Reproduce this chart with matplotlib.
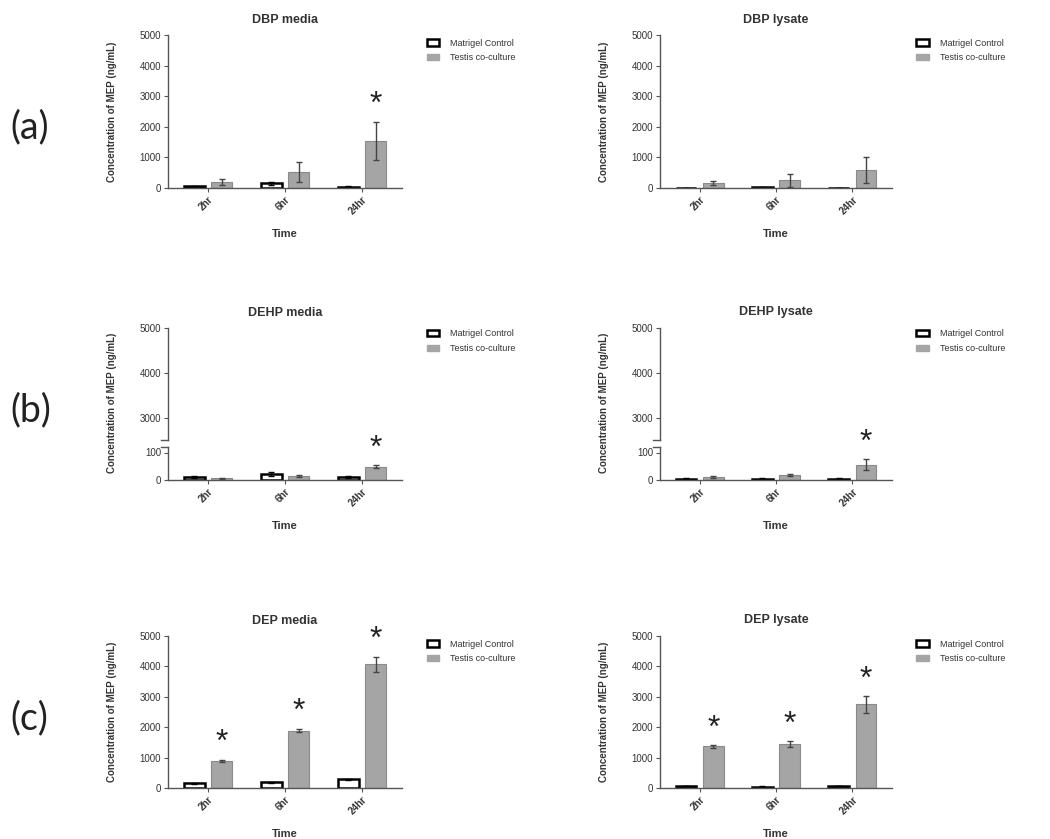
import numpy as np
import matplotlib
matplotlib.use("Agg")
import matplotlib.pyplot as plt

plt.rcParams["font.family"] = ["Liberation Sans", "DejaVu Sans"]

# --- data (ng/mL) ---
times = ["2hr", "6hr", "24hr"]
legend_labels = ["Matrigel Control", "Testis co-culture"]
row_labels = ["(a)", "(b)", "(c)"]

dbp_media_ctrl = [50, 150, 40]
dbp_media_ctrl_err = [20, 40, 10]
dbp_media_testis = [190, 520, 1550]
dbp_media_testis_err = [90, 320, 620]
dbp_media_sig = [False, False, True]

dbp_lysate_ctrl = [10, 20, 10]
dbp_lysate_ctrl_err = [5, 10, 5]
dbp_lysate_testis = [160, 250, 590]
dbp_lysate_testis_err = [60, 220, 430]
dbp_lysate_sig = [False, False, False]

dehp_media_ctrl = [10, 22, 12]
dehp_media_ctrl_err = [3, 6, 3]
dehp_media_testis = [7, 14, 48]
dehp_media_testis_err = [2, 3, 6]
dehp_media_sig = [False, False, True]

dehp_lysate_ctrl = [5, 5, 5]
dehp_lysate_ctrl_err = [2, 2, 2]
dehp_lysate_testis = [11, 18, 55]
dehp_lysate_testis_err = [3, 4, 20]
dehp_lysate_sig = [False, False, True]

dep_media_ctrl = [150, 190, 280]
dep_media_ctrl_err = [20, 20, 30]
dep_media_testis = [890, 1890, 4070]
dep_media_testis_err = [40, 60, 250]
dep_media_sig = [True, True, True]

dep_lysate_ctrl = [60, 40, 60]
dep_lysate_ctrl_err = [10, 10, 10]
dep_lysate_testis = [1370, 1450, 2750]
dep_lysate_testis_err = [40, 90, 280]
dep_lysate_sig = [True, True, True]

GRAY = "#a5a5a5"
GRAY_EDGE = "#8a8a8a"
AX_COL = "#555555"
TXT = "#333333"
YLABEL = "Concentration of MEP (ng/mL)"

W, H = 1050, 839
fig = plt.figure(figsize=(W / 100, H / 100), dpi=100)


def px_axes(x0, x1, ytop, ybot):
    return fig.add_axes([x0 / W, 1 - ybot / H, (x1 - x0) / W, (ybot - ytop) / H])


def style(ax, bottom=True):
    for s in ["top", "right"]:
        ax.spines[s].set_visible(False)
    ax.spines["left"].set_color(AX_COL)
    ax.spines["bottom"].set_color(AX_COL)
    ax.spines["left"].set_linewidth(1.0)
    ax.spines["bottom"].set_linewidth(1.0)
    ax.tick_params(axis="y", direction="out", length=3, color=AX_COL,
                   labelsize=7, labelcolor=TXT, pad=2)
    ax.tick_params(axis="x", direction="out", length=3, color=AX_COL,
                   labelsize=7, labelcolor=TXT, pad=2)
    ax.set_xlim(-0.52, 2.52)
    if not bottom:
        ax.spines["bottom"].set_visible(False)
        ax.set_xticks([])


def draw_bars(ax, ctrl, ctrl_err, tes, tes_err, sig):
    x = np.arange(len(times))
    off, w = 0.18, 0.27
    ax.bar(x - off, ctrl, w, color="white", edgecolor="black", linewidth=1.8,
           yerr=ctrl_err, error_kw=dict(ecolor="black", elinewidth=1, capsize=2.5))
    ax.bar(x + off, tes, w, color=GRAY, edgecolor=GRAY_EDGE, linewidth=0.8,
           yerr=tes_err, error_kw=dict(ecolor="#444444", elinewidth=1, capsize=2.5))
    for i, s in enumerate(sig):
        if s:
            ax.annotate("*", xy=(x[i] + off, tes[i] + tes_err[i]), xytext=(0, 1),
                        textcoords="offset points", ha="center", va="bottom",
                        fontsize=23, color="#222222", annotation_clip=False)
    ax.set_xticks(x)
    ax.set_xticklabels(times, rotation=45, ha="right", rotation_mode="anchor",
                       fontweight="bold")
    ax.set_xlabel("Time", fontsize=8, fontweight="bold", color=TXT, labelpad=9)


def add_legend(ax, anchor):
    h1 = plt.Rectangle((0, 0), 1, 1, facecolor="white", edgecolor="black", linewidth=1.8)
    h2 = plt.Rectangle((0, 0), 1, 1, facecolor=GRAY, edgecolor=GRAY)
    leg = ax.legend([h1, h2], legend_labels, loc="upper left", bbox_to_anchor=anchor,
                    frameon=False, fontsize=6.5, handlelength=1.4, handleheight=0.7,
                    handletextpad=1.2, labelspacing=0.6)
    for t in leg.get_texts():
        t.set_color(TXT)


cols = [(168, 402), (660, 892)]

# row (a) and (c): plain axes
plain_rows = [
    (35, 188, [("DBP media", dbp_media_ctrl, dbp_media_ctrl_err, dbp_media_testis, dbp_media_testis_err, dbp_media_sig),
               ("DBP lysate", dbp_lysate_ctrl, dbp_lysate_ctrl_err, dbp_lysate_testis, dbp_lysate_testis_err, dbp_lysate_sig)]),
    (636, 788, [("DEP media", dep_media_ctrl, dep_media_ctrl_err, dep_media_testis, dep_media_testis_err, dep_media_sig),
                ("DEP lysate", dep_lysate_ctrl, dep_lysate_ctrl_err, dep_lysate_testis, dep_lysate_testis_err, dep_lysate_sig)]),
]
for ytop, ybot, panels in plain_rows:
    for (x0, x1), (title, c, ce, t, te, sg) in zip(cols, panels):
        ax = px_axes(x0, x1, ytop, ybot)
        style(ax)
        draw_bars(ax, c, ce, t, te, sg)
        ax.set_ylim(0, 5000)
        ax.set_yticks([0, 1000, 2000, 3000, 4000, 5000])
        ax.set_title(title, fontsize=9, fontweight="bold", color=TXT, pad=9)
        ax.set_ylabel(YLABEL, fontsize=7, fontweight="bold", color=TXT)
        ax.yaxis.set_label_coords(-0.22, 0.5)
        add_legend(ax, (1.07, 1.03))

# row (b): broken y axis
dehp_panels = [("DEHP media", dehp_media_ctrl, dehp_media_ctrl_err, dehp_media_testis, dehp_media_testis_err, dehp_media_sig),
               ("DEHP lysate", dehp_lysate_ctrl, dehp_lysate_ctrl_err, dehp_lysate_testis, dehp_lysate_testis_err, dehp_lysate_sig)]
for (x0, x1), (title, c, ce, t, te, sg) in zip(cols, dehp_panels):
    up = px_axes(x0, x1, 328, 440)
    style(up, bottom=False)
    up.set_ylim(2500, 5000)
    up.set_yticks([3000, 4000, 5000])
    up.set_title(title, fontsize=9, fontweight="bold", color=TXT, pad=9)
    up.plot([-0.03, 0.0], [0, 0], transform=up.transAxes, color=AX_COL, lw=1, clip_on=False)

    lo = px_axes(x0, x1, 447, 480)
    style(lo)
    draw_bars(lo, c, ce, t, te, sg)
    lo.set_ylim(0, 120)
    lo.set_yticks([0, 100])
    lo.plot([-0.03, 0.0], [1, 1], transform=lo.transAxes, color=AX_COL, lw=1, clip_on=False)

    up.set_ylabel(YLABEL, fontsize=7, fontweight="bold", color=TXT)
    up.yaxis.set_label_coords(-0.22, 0.33)
    add_legend(up, (1.07, 1.06))

# row labels
for lab, yc in zip(row_labels, [127, 410, 718]):
    fig.text(10 / W, 1 - yc / H, lab, fontsize=27, color="#222222", va="center",
             ha="left", family=["Lato", "DejaVu Sans"])

fig.savefig("out.png", dpi=100, facecolor="white")
